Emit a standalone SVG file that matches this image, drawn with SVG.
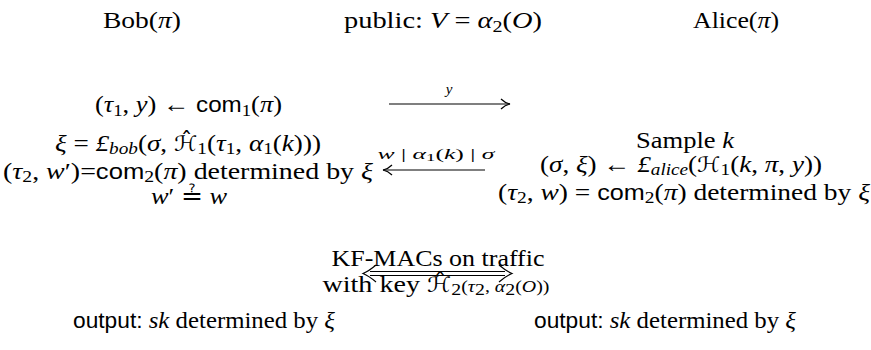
<svg xmlns="http://www.w3.org/2000/svg" width="871" height="350" viewBox="0 0 871 350">
<style>
.t{font-family:"Liberation Serif","Times New Roman","DejaVu Serif",serif;font-size:24px;fill:#000}
.i{font-style:italic}
.s{font-family:"Liberation Sans",Arial,sans-serif;font-size:22px}
.h{font-family:"DejaVu Sans",sans-serif;font-style:normal;font-size:21px}
.sub{font-size:17px}
.lbl{font-size:15px}
.ln{stroke:#000;stroke-width:1.2;fill:none}
</style>
<defs>
<marker id="ah" markerWidth="14" markerHeight="14" refX="12" refY="7" orient="auto" markerUnits="userSpaceOnUse">
<path d="M3,2 Q7,6 12,7 Q7,8 3,12" fill="none" stroke="#000" stroke-width="1.2"/>
</marker>
</defs>
<rect width="871" height="350" fill="#fff"/>

<g id="bob-title"><text class="t" x="142" y="28" text-anchor="middle" textLength="78" lengthAdjust="spacingAndGlyphs">Bob(<tspan class="i">π</tspan>)</text></g>
<g id="public-title"><text class="t" x="443" y="28" text-anchor="middle" textLength="198" lengthAdjust="spacingAndGlyphs">public: <tspan class="i">V</tspan> = <tspan class="i">α</tspan><tspan class="sub" dy="4">2</tspan><tspan dy="-4">(</tspan><tspan class="i">O</tspan>)</text></g>
<g id="alice-title"><text class="t" x="736" y="28" text-anchor="middle" textLength="86" lengthAdjust="spacingAndGlyphs">Alice(<tspan class="i">π</tspan>)</text></g>

<g id="bob-commit"><text class="t" x="188.5" y="112" text-anchor="middle" textLength="187" lengthAdjust="spacingAndGlyphs">(<tspan class="i">τ</tspan><tspan class="sub" dy="4">1</tspan><tspan dy="-4">, </tspan><tspan class="i">y</tspan>) ← <tspan class="s">com</tspan><tspan class="sub" dy="4">1</tspan><tspan dy="-4">(</tspan><tspan class="i">π</tspan>)</text></g>

<g id="bob-block">
<text class="t" x="188" y="151" text-anchor="middle" textLength="266" lengthAdjust="spacingAndGlyphs"><tspan class="i">ξ</tspan> = <tspan class="i">£</tspan><tspan class="sub i" dy="3">bob</tspan><tspan dy="-3">(</tspan><tspan class="i">σ</tspan>, <tspan class="h">ℋ̂</tspan><tspan class="sub" dy="3">1</tspan><tspan dy="-3">(</tspan><tspan class="i">τ</tspan><tspan class="sub" dy="3">1</tspan><tspan dy="-3">, </tspan><tspan class="i">α</tspan><tspan class="sub" dy="3">1</tspan><tspan dy="-3">(</tspan><tspan class="i">k</tspan>)))</text>
<text class="t" x="188" y="179" text-anchor="middle" textLength="370" lengthAdjust="spacingAndGlyphs">(<tspan class="i">τ</tspan><tspan class="sub" dy="3">2</tspan><tspan dy="-3">, </tspan><tspan class="i">w</tspan>′)=<tspan class="s">com</tspan><tspan class="sub" dy="3">2</tspan><tspan dy="-3">(</tspan><tspan class="i">π</tspan>) determined by <tspan class="i">ξ</tspan></text>
<text class="t" x="189" y="204" text-anchor="middle" textLength="76" lengthAdjust="spacingAndGlyphs"><tspan class="i">w</tspan>′ ≟ <tspan class="i">w</tspan></text>
</g>

<g id="alice-block">
<text class="t" x="685" y="148" text-anchor="middle" textLength="98" lengthAdjust="spacingAndGlyphs">Sample <tspan class="i">k</tspan></text>
<text class="t" x="681" y="172" text-anchor="middle" textLength="282" lengthAdjust="spacingAndGlyphs">(<tspan class="i">σ</tspan>, <tspan class="i">ξ</tspan>) ← <tspan class="i">£</tspan><tspan class="sub i" dy="3">alice</tspan><tspan dy="-3">(</tspan><tspan class="h">ℋ</tspan><tspan class="sub" dy="3">1</tspan><tspan dy="-3">(</tspan><tspan class="i">k</tspan>, <tspan class="i">π</tspan>, <tspan class="i">y</tspan>))</text>
<text class="t" x="684" y="200" text-anchor="middle" textLength="372" lengthAdjust="spacingAndGlyphs">(<tspan class="i">τ</tspan><tspan class="sub" dy="3">2</tspan><tspan dy="-3">, </tspan><tspan class="i">w</tspan>) = <tspan class="s">com</tspan><tspan class="sub" dy="3">2</tspan><tspan dy="-3">(</tspan><tspan class="i">π</tspan>) determined by <tspan class="i">ξ</tspan></text>
</g>

<g id="kf-macs">
<text class="t" x="438" y="266" text-anchor="middle" textLength="213" lengthAdjust="spacingAndGlyphs">KF-MACs on traffic</text>
<text class="t" x="436" y="292" text-anchor="middle" textLength="227" lengthAdjust="spacingAndGlyphs">with key <tspan class="h" font-size="16">ℋ̂</tspan><tspan class="sub" dy="3">2</tspan><tspan class="sub" dy="-3">(</tspan><tspan class="sub i">τ</tspan><tspan class="sub" dy="3">2</tspan><tspan class="sub" dy="-3">, </tspan><tspan class="sub i">α</tspan><tspan class="sub" dy="3">2</tspan><tspan class="sub" dy="-3">(</tspan><tspan class="sub i">O</tspan><tspan class="sub">))</tspan></text>
</g>

<g id="bob-output"><text class="t" x="73" y="328" textLength="262" lengthAdjust="spacingAndGlyphs"><tspan class="s">output:</tspan>  <tspan class="i">sk</tspan> determined by <tspan class="i">ξ</tspan></text></g>
<g id="alice-output"><text class="t" x="534" y="328" textLength="262" lengthAdjust="spacingAndGlyphs"><tspan class="s">output:</tspan> <tspan class="i">sk</tspan> determined by <tspan class="i">ξ</tspan></text></g>

<g id="connectors">
<line class="ln" x1="389" y1="104" x2="510" y2="104" marker-end="url(#ah)"/>
<text class="t lbl i" x="449" y="94" text-anchor="middle">y</text>
<line class="ln" x1="485" y1="170" x2="383" y2="170" marker-end="url(#ah)"/>
<text class="t lbl" x="436" y="159" text-anchor="middle" textLength="117" lengthAdjust="spacingAndGlyphs"><tspan class="i">w</tspan>  |  <tspan class="i">α</tspan><tspan font-size="11" dy="2">1</tspan><tspan dy="-2">(</tspan><tspan class="i">k</tspan>)  |  <tspan class="i">σ</tspan></text>
<g id="kf-arrow">
<line class="ln" x1="370" y1="271.5" x2="505" y2="271.5"/>
<line class="ln" x1="370" y1="275.5" x2="505" y2="275.5"/>
<path class="ln" d="M376,265 Q369,271 363,273.5 Q369,276 376,282"/>
<path class="ln" d="M499,265 Q506,271 512,273.5 Q506,276 499,282"/>
</g>
</g>
</svg>
